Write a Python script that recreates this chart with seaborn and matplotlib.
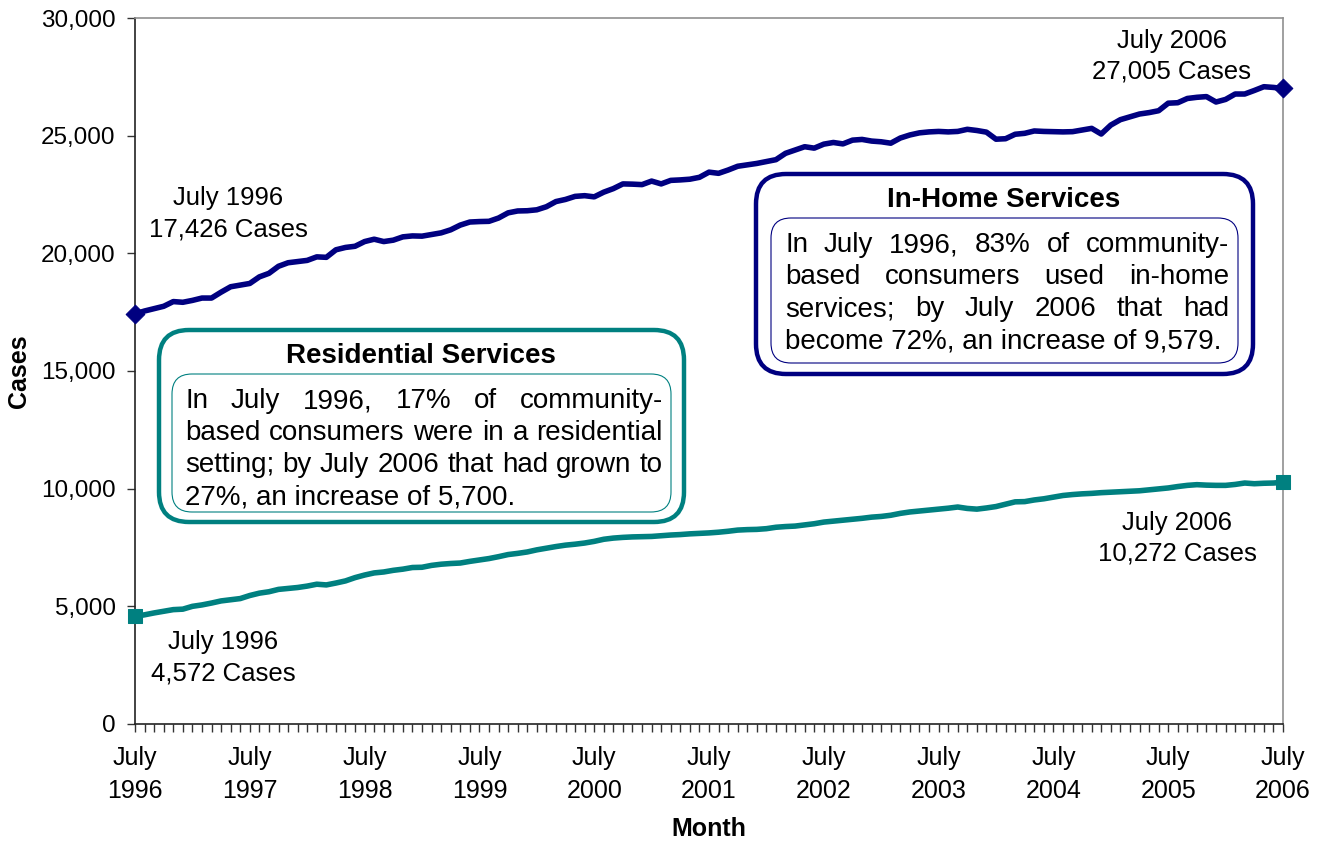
import pandas as pd
import matplotlib.pyplot as plt
import seaborn as sns
from matplotlib.patches import FancyBboxPatch
from matplotlib.ticker import FuncFormatter

# monthly caseloads, July 1996 .. July 2006
in_home = [17426, 17550, 17650, 17750, 17950, 17920, 18000, 18100, 18100, 18350,
           18580, 18650, 18720, 19000, 19150, 19450, 19600, 19650, 19700, 19850,
           19830, 20150, 20250, 20300, 20500, 20600, 20500, 20560, 20700, 20740,
           20730, 20800, 20870, 21000, 21200, 21330, 21350, 21360, 21500, 21720,
           21800, 21810, 21850, 21980, 22200, 22290, 22420, 22450, 22400, 22600,
           22750, 22950, 22940, 22920, 23070, 22950, 23100, 23120, 23150, 23230,
           23450, 23400, 23540, 23700, 23760, 23820, 23900, 23980, 24250, 24390,
           24530, 24470, 24640, 24710, 24650, 24810, 24840, 24770, 24740, 24680,
           24900, 25030, 25120, 25160, 25180, 25160, 25180, 25270, 25220, 25150,
           24850, 24870, 25060, 25100, 25200, 25180, 25170, 25160, 25170, 25240,
           25310, 25070, 25450, 25680, 25800, 25920, 25980, 26060, 26380, 26400,
           26580, 26630, 26660, 26430, 26540, 26770, 26770, 26920, 27080, 27050,
           27005]
residential = [4572, 4640, 4720, 4790, 4860, 4880, 5000, 5060, 5140, 5230,
               5280, 5330, 5460, 5560, 5620, 5720, 5760, 5800, 5860, 5940,
               5910, 5990, 6080, 6220, 6330, 6420, 6460, 6530, 6580, 6650,
               6660, 6740, 6790, 6820, 6840, 6910, 6970, 7030, 7110, 7200,
               7250, 7310, 7400, 7470, 7540, 7600, 7640, 7690, 7760, 7850,
               7900, 7930, 7950, 7960, 7970, 8000, 8030, 8050, 8080, 8100,
               8120, 8150, 8190, 8240, 8260, 8270, 8300, 8360, 8390, 8410,
               8460, 8510, 8580, 8620, 8660, 8700, 8740, 8790, 8820, 8870,
               8950, 9010, 9050, 9090, 9130, 9170, 9220, 9160, 9130, 9180,
               9240, 9340, 9440, 9450, 9520, 9570, 9640, 9710, 9750, 9780,
               9800, 9830, 9850, 9870, 9890, 9910, 9950, 9990, 10030, 10090,
               10140, 10170, 10150, 10140, 10140, 10180, 10240, 10210, 10230, 10240,
               10272]
month_idx = list(range(len(in_home)))
year_labels = ["July\n%d" % y for y in range(1996, 2007)]

res_title = "Residential Services"
res_lines = ["In July 1996, 17% of community-",
             "based consumers were in a residential",
             "setting; by July 2006 that had grown to",
             "27%, an increase of 5,700."]
home_title = "In-Home Services"
home_lines = ["In July 1996, 83% of community-",
              "based consumers used in-home",
              "services; by July 2006 that had",
              "become 72%, an increase of 9,579."]

NAVY = "#000080"
TEAL = "#008080"

sns.set_theme(style="white")
plt.rcParams['font.family'] = ['Liberation Sans', 'DejaVu Sans']
plt.rcParams.update({'text.color': 'black', 'axes.labelcolor': 'black',
                     'xtick.color': 'black', 'ytick.color': 'black'})

W, H = 1317, 842
fig = plt.figure(figsize=(W / 100, H / 100), dpi=100)
ax = fig.add_axes([135 / W, 1 - 724 / H, (1283 - 135) / W, (724 - 18) / H])

df = pd.DataFrame({'month': month_idx, 'In-Home': in_home, 'Residential': residential})
sns.lineplot(data=df, x='month', y='In-Home', color=NAVY, linewidth=4, ax=ax)
sns.lineplot(data=df, x='month', y='Residential', color=TEAL, linewidth=4, ax=ax)
ends = df.iloc[[0, -1]]
sns.scatterplot(data=ends, x='month', y='In-Home', marker='D', s=90, color=NAVY,
                edgecolor=NAVY, ax=ax, clip_on=False, zorder=5)
sns.scatterplot(data=ends, x='month', y='Residential', marker='s', s=90, color=TEAL,
                edgecolor=TEAL, ax=ax, clip_on=False, zorder=5)

ax.set_xlim(0, 120)
ax.set_ylim(0, 30000)
ax.set_xticks(range(0, 121, 12))
ax.set_xticklabels(year_labels, linespacing=1.45)
ax.set_xticks(month_idx, minor=True)
ax.tick_params(axis='x', which='both', direction='out', length=6, width=1,
               color='#333333', bottom=True)
ax.tick_params(axis='x', which='major', labelsize=18, pad=10)
ax.set_yticks(range(0, 30001, 5000))
ax.yaxis.set_major_formatter(FuncFormatter(lambda v, p: f'{v:,.0f}'))
ax.tick_params(axis='y', direction='out', length=6, width=1, color='#333333',
               left=True, labelsize=17.5, pad=8)
for s in ['left', 'bottom']:
    ax.spines[s].set_color('#222222')
    ax.spines[s].set_linewidth(1.2)
for s in ['top', 'right']:
    ax.spines[s].set_color('#909090')
    ax.spines[s].set_linewidth(1.2)

ax.set_xlabel('Month', fontsize=18, fontweight='bold', labelpad=10)
ax.set_ylabel('Cases', fontsize=18, fontweight='bold', labelpad=7)

# overlay in pixel units for the text boxes and callouts
ov = fig.add_axes([0, 0, 1, 1], zorder=3)
ov.set_xlim(0, W)
ov.set_ylim(H, 0)
ov.axis('off')
ov.patch.set_alpha(0)


def rbox(x0, y0, x1, y1, ec, lw, r):
    ov.add_patch(FancyBboxPatch((x0, y0), x1 - x0, y1 - y0,
                                boxstyle=f"round,pad=0,rounding_size={r}",
                                ec=ec, fc='white', lw=lw))


renderer = fig.canvas.get_renderer()


def justified(lines, left, right, baselines, size=20):
    for k, (line, yb) in enumerate(zip(lines, baselines)):
        if k == len(lines) - 1:
            ov.text(left, yb, line, fontsize=size, va='baseline', ha='left')
            continue
        words = line.split()
        items = [ov.text(0, yb, w, fontsize=size, va='baseline', ha='left') for w in words]
        widths = [t.get_window_extent(renderer).width for t in items]
        gap = (right - left - sum(widths)) / (len(words) - 1)
        x = left
        for t, wd in zip(items, widths):
            t.set_x(x)
            x += wd + gap


# Residential box
rbox(159, 330, 684, 522, TEAL, 3.2, 30)
rbox(172, 374, 671, 512, TEAL, 0.8, 20)
ov.text(421, 363, res_title, fontsize=20, fontweight='bold', ha='center', va='baseline')
justified(res_lines, 185, 663, [408, 440, 472, 504])

# In-Home box
rbox(756, 174, 1253, 374, NAVY, 3.2, 30)
rbox(771, 218, 1238, 363, NAVY, 0.8, 20)
ov.text(1004, 207, home_title, fontsize=20, fontweight='bold', ha='center', va='baseline')
justified(home_lines, 785, 1229, [252, 284, 316, 348])

# end-point callouts
callouts = [(228, 205, "July 1996"), (228, 236, "17,426 Cases"),
            (1172, 48, "July 2006"), (1172, 78, "27,005 Cases"),
            (1177, 530, "July 2006"), (1177, 561, "10,272 Cases"),
            (223, 649, "July 1996"), (223, 681, "4,572 Cases")]
for x, y, t in callouts:
    ov.text(x, y, t, fontsize=18.5, ha='center', va='baseline')

fig.savefig('out.png', dpi=100)
